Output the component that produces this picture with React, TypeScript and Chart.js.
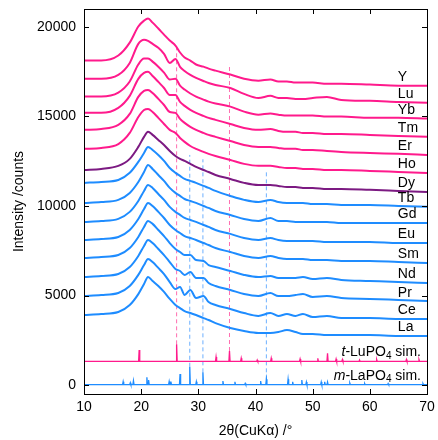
import React, { useEffect, useRef } from 'react';
import { Chart, registerables } from 'chart.js';
Chart.register(...registerables);

// ---------- data ----------
const twoTheta = [10, 13, 16, 18, 19.5, 20.5, 21.2, 22, 23, 24, 25, 26, 26.8, 27.6, 28.6, 29.6, 30.9, 31.8, 33, 35.6, 38, 40.5, 42.6, 44, 45.5, 47, 48.3, 50, 52.5, 55, 60, 65, 70];

const La = [3910, 3970, 4080, 4470, 5080, 5640, 6030, 5810, 5530, 5200, 4810, 4470, 4300, 4130, 4020, 3910, 3740, 3630, 3460, 3190, 3020, 2910, 2910, 2960, 3070, 2960, 2850, 2850, 2790, 2790, 2790, 2740, 2740];
const Ce = [4970, 5030, 5140, 5530, 6150, 6700, 7040, 6870, 6540, 6200, 5750, 5360, 5480, 5030, 5310, 4860, 4970, 4640, 4470, 4250, 4020, 3860, 4020, 3860, 3970, 3860, 3970, 3800, 3860, 3740, 3740, 3690, 3690];
const Pr = [6030, 6090, 6200, 6590, 7210, 7770, 8100, 7930, 7600, 7260, 6870, 6480, 6370, 6150, 6310, 5980, 5980, 5700, 5530, 5310, 5080, 4970, 5140, 4970, 4970, 5030, 5080, 4920, 4970, 4860, 4810, 4750, 4690];
const Nd = [7100, 7150, 7260, 7650, 8270, 8830, 9160, 9000, 8660, 8320, 7930, 7600, 7430, 7260, 7260, 6980, 6930, 6700, 6590, 6370, 6150, 6030, 6090, 5980, 5980, 5980, 6030, 5920, 5980, 5870, 5810, 5750, 5700];
const Sm = [8100, 8160, 8270, 8660, 9270, 9830, 10170, 10000, 9670, 9330, 8940, 8660, 8490, 8320, 8210, 8100, 7930, 7820, 7650, 7430, 7210, 7100, 7210, 7100, 7040, 7040, 7040, 6980, 6980, 6930, 6930, 6870, 6820];
const Eu = [9110, 9160, 9280, 9670, 10280, 10840, 11170, 11010, 10670, 10340, 9950, 9670, 9500, 9330, 9220, 9110, 8940, 8830, 8660, 8440, 8210, 8100, 8210, 8100, 8050, 8050, 8050, 8050, 7990, 7990, 7990, 7930, 7930];
const Gd = [10170, 10220, 10340, 10730, 11340, 11900, 12290, 12070, 11730, 11400, 11010, 10730, 10560, 10390, 10280, 10170, 10000, 9890, 9720, 9500, 9270, 9160, 9330, 9160, 9160, 9110, 9110, 9110, 9110, 9050, 9050, 9050, 9050];
const Tb = [11290, 11340, 11450, 11850, 12460, 12960, 13300, 13130, 12850, 12520, 12120, 11850, 11680, 11510, 11400, 11290, 11120, 11010, 10840, 10560, 10340, 10220, 10340, 10220, 10170, 10170, 10170, 10110, 10110, 10060, 10060, 10000, 9950];
const Dy = [12010, 12070, 12240, 12630, 13300, 13860, 14140, 13970, 13690, 13410, 13070, 12790, 12630, 12520, 12350, 12180, 12010, 11900, 11730, 11510, 11290, 11170, 11170, 11120, 11060, 11060, 11010, 11010, 10950, 10950, 10900, 10840, 10780];
const Ho = [13190, 13240, 13460, 14080, 14970, 15360, 15420, 15250, 14920, 14580, 14250, 14080, 13800, 13580, 13350, 13190, 13020, 12910, 12790, 12570, 12350, 12240, 12240, 12180, 12120, 12120, 12070, 12070, 12010, 12010, 11960, 11900, 11840];
const Er = [14250, 14300, 14530, 15140, 16090, 16430, 16480, 16310, 15980, 15640, 15250, 15200, 14860, 14640, 14420, 14250, 14080, 13970, 13860, 13630, 13410, 13300, 13300, 13240, 13190, 13190, 13130, 13130, 13070, 13020, 12960, 12910, 12850];
const Tm = [15200, 15200, 15480, 16150, 17100, 17430, 17490, 17260, 16930, 16590, 16200, 16200, 15810, 15590, 15370, 15200, 15030, 14920, 14810, 14580, 14360, 14250, 14300, 14190, 14140, 14140, 14080, 14080, 14020, 14020, 13970, 13910, 13860];
const Yb = [16110, 16110, 16330, 16950, 17900, 18230, 18230, 18060, 17780, 17450, 17060, 17110, 16720, 16500, 16280, 16110, 15940, 15830, 15720, 15550, 15270, 15100, 15160, 15100, 15050, 15050, 15050, 15050, 14990, 14990, 14930, 14930, 14880];
const Lu = [17100, 17100, 17320, 17990, 19050, 19280, 19220, 19050, 18830, 18490, 17990, 18210, 17770, 17540, 17320, 17150, 16980, 16870, 16760, 16590, 16260, 16030, 16150, 16030, 16030, 15980, 15980, 16030, 16090, 15920, 15870, 15810, 15760];
const Yt = [18120, 18120, 18400, 19120, 20020, 20350, 20470, 20240, 19910, 19570, 19240, 18960, 18570, 18290, 18120, 17900, 17780, 17670, 17560, 17340, 17110, 17000, 17060, 16950, 16950, 16890, 16890, 16890, 16830, 16830, 16780, 16720, 16720];

const sampleNames = ['La', 'Ce', 'Pr', 'Nd', 'Sm', 'Eu', 'Gd', 'Tb', 'Dy', 'Ho', 'Er', 'Tm', 'Yb', 'Lu', 'Y'];
const sampleValues = [La, Ce, Pr, Nd, Sm, Eu, Gd, Tb, Dy, Ho, Er, Tm, Yb, Lu, Yt];
const sampleGroup = ['m', 'm', 'm', 'm', 'm', 'm', 'm', 'm', 'd', 't', 't', 't', 't', 't', 't'];

// simulated patterns (peak positions / intensities, baseline)
const tLuBase = 1320;
const tLuPeakPos = [19.65, 26.2, 33.1, 35.45, 37.5, 40.3, 42.75, 47.8, 50.9, 52.6, 54.1, 55.2, 58.2, 61.2, 66.4, 68.6];
const tLuPeakInt = [1955, 2274, 1564, 1900, 1492, 1400, 1492, 1453, 1492, 1771, 1453, 1425, 1397, 1425, 1425, 1425];
const mLaBase = 20;
const mLaPeakPos = [16.85, 18.1, 18.65, 21.0, 21.3, 24.9, 25.2, 26.8, 28.5, 29.65, 30.8, 34.3, 36.4, 38.2, 40.9, 41.9, 45.7, 46.5, 48.1, 48.9, 51.5, 52.1, 52.6, 56.5, 59.1, 63.2, 69.3];
const mLaPeakInt = [184, 128, 240, 430, 280, 196, 196, 615, 1022, 184, 710, 224, 184, 95, 224, 318, 318, 184, 280, 168, 168, 184, 168, 110, 84, 84, 84];

// reference (dashed) lines
const refPos = [26.2, 35.45, 28.5, 30.8, 41.9];
const refTop = [18900, 17930, 12850, 12610, 11920];
const refBottom = [2274, 1900, 1022, 710, 318];
const refGroup = ['t', 't', 'm', 'm', 'm'];

const xTicks = [10, 20, 30, 40, 50, 60, 70];
const yTicks = [0, 5000, 10000, 15000, 20000];

// ---------- styles ----------
const COLORS: Record<string, string> = { m: '#1e8cff', d: '#7c1a82', t: '#ff1a8c' };
const DASH_COLORS: Record<string, string> = { m: 'rgba(60,150,255,0.75)', t: 'rgba(255,60,150,0.75)' };
const FONT = '"Liberation Sans", Arial, Helvetica, sans-serif';
const LABEL_X = 64.9;
const SIM_LABEL_X = 68.95;
const LABEL_LIFT = 470;

function stickPattern(base: number, pos: number[], ints: number[]) {
  const pts: { x: number; y: number }[] = [{ x: 10, y: base }];
  pos.forEach((p, i) => {
    pts.push({ x: p - 0.1, y: base });
    pts.push({ x: p, y: ints[i] });
    pts.push({ x: p + 0.1, y: base });
  });
  pts.push({ x: 70, y: base });
  return pts;
}

const framePlugin = {
  id: 'frameAndLabels',
  afterDatasetsDraw(chart: any) {
    const { ctx, chartArea: a, scales } = chart;
    const xs = scales.x, ys = scales.y;
    ctx.save();
    ctx.strokeStyle = '#000';
    ctx.lineWidth = 1;
    ctx.strokeRect(Math.round(a.left) + 0.5, Math.round(a.top) + 0.5, Math.round(a.right - a.left), Math.round(a.bottom - a.top));
    const tl = 5;
    ctx.beginPath();
    xTicks.forEach((v) => {
      const px = Math.round(xs.getPixelForValue(v)) + 0.5;
      ctx.moveTo(px, a.bottom); ctx.lineTo(px, a.bottom - tl);
      ctx.moveTo(px, a.top); ctx.lineTo(px, a.top + tl);
    });
    yTicks.forEach((v) => {
      const py = Math.round(ys.getPixelForValue(v)) + 0.5;
      ctx.moveTo(a.left, py); ctx.lineTo(a.left + tl, py);
      ctx.moveTo(a.right, py); ctx.lineTo(a.right - tl, py);
    });
    ctx.stroke();

    // sample labels
    ctx.fillStyle = '#000';
    ctx.textBaseline = 'middle';
    ctx.textAlign = 'left';
    ctx.font = `14px ${FONT}`;
    sampleNames.forEach((n, i) => {
      const vals = sampleValues[i];
      const y = ys.getPixelForValue(vals[vals.length - 1] + LABEL_LIFT);
      ctx.fillText(n, xs.getPixelForValue(LABEL_X), y);
    });

    // simulated pattern labels
    const simLabels = [
      { base: tLuBase, parts: [{ t: 't', it: true }, { t: '-LuPO' }, { t: '4', sub: true }, { t: ' sim.' }] },
      { base: mLaBase, parts: [{ t: 'm', it: true }, { t: '-LaPO' }, { t: '4', sub: true }, { t: ' sim.' }] },
    ];
    simLabels.forEach((s) => {
      const y = ys.getPixelForValue(s.base + LABEL_LIFT + 30);
      const fontOf = (p: any) => (p.sub ? `10px ${FONT}` : p.it ? `italic 14px ${FONT}` : `14px ${FONT}`);
      const widths = s.parts.map((p: any) => { ctx.font = fontOf(p); return ctx.measureText(p.t).width; });
      let x = xs.getPixelForValue(SIM_LABEL_X) - widths.reduce((q: number, w: number) => q + w, 0);
      s.parts.forEach((p: any, i: number) => {
        ctx.font = fontOf(p);
        ctx.fillText(p.t, x, y + (p.sub ? 4 : 0));
        x += widths[i];
      });
    });
    ctx.restore();
  },
};

export default function App() {
  const ref = useRef<HTMLCanvasElement>(null);
  useEffect(() => {
    if (!ref.current) return;
    Chart.defaults.font.family = FONT;
    Chart.defaults.color = '#000';
    const datasets: any[] = [];
    refPos.forEach((p, i) => {
      datasets.push({
        data: [{ x: p, y: refBottom[i] }, { x: p, y: refTop[i] }],
        borderColor: DASH_COLORS[refGroup[i]],
        borderWidth: 1,
        borderDash: [4, 3],
        order: 10,
      });
    });
    datasets.push({ data: stickPattern(tLuBase, tLuPeakPos, tLuPeakInt), borderColor: COLORS.t, borderWidth: 1.3, order: 1 });
    datasets.push({ data: stickPattern(mLaBase, mLaPeakPos, mLaPeakInt), borderColor: COLORS.m, borderWidth: 1.3, order: 1 });
    sampleValues.forEach((vals, i) => {
      datasets.push({
        label: sampleNames[i],
        data: twoTheta.map((x, j) => ({ x, y: vals[j] })),
        borderColor: COLORS[sampleGroup[i]],
        borderWidth: 2,
        cubicInterpolationMode: 'monotone',
        order: 0,
      });
    });
    const chart = new Chart(ref.current, {
      type: 'line',
      data: { datasets },
      options: {
        animation: false,
        responsive: true,
        maintainAspectRatio: false,
        layout: { padding: { top: 9, right: 11, left: 0, bottom: 0 } },
        plugins: { legend: { display: false }, tooltip: { enabled: false } },
        elements: { point: { radius: 0 }, line: { tension: 0 } },
        scales: {
          x: {
            type: 'linear', min: 10, max: 70,
            grid: { display: false, drawTicks: false }, border: { display: false },
            ticks: { padding: 5, font: { size: 14 }, maxRotation: 0, autoSkip: false, callback: (v: any) => String(v) },
            title: { display: true, text: '2θ(CuKα) /°', font: { size: 14 }, padding: { top: 0, bottom: 0 } },
            afterBuildTicks: (s: any) => { s.ticks = xTicks.map((v) => ({ value: v })); },
            afterFit: (s: any) => { s.height = 46; s.paddingLeft = 0; s.paddingRight = 0; },
          },
          y: {
            type: 'linear', min: -500, max: 21000,
            grid: { display: false, drawTicks: false }, border: { display: false },
            ticks: { padding: 8, font: { size: 14 }, callback: (v: any) => String(v) },
            title: { display: true, text: 'Intensity /counts', font: { size: 14 }, padding: { top: 10.5, bottom: 0 } },
            afterBuildTicks: (s: any) => { s.ticks = yTicks.map((v) => ({ value: v })); },
            afterFit: (s: any) => { s.width = 84; s.paddingTop = 0; s.paddingBottom = 0; },
          },
        },
      },
      plugins: [framePlugin],
    } as any);
    return () => chart.destroy();
  }, []);
  return (
    <div style={{ position: 'absolute', left: 0, top: 0, width: 438, height: 440, background: '#fff' }}>
      <canvas ref={ref} />
    </div>
  );
}
